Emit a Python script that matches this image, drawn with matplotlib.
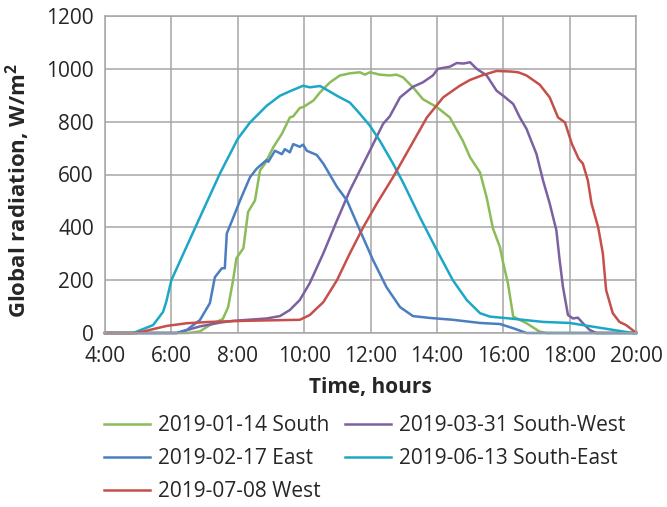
#!/usr/bin/env python3
import matplotlib
matplotlib.use('Agg')
import matplotlib.pyplot as plt

# Time of day in decimal hours, global radiation in W/m2
south_t = [4.0, 6.5, 6.86, 7.16, 7.55, 7.71, 7.86, 7.96, 8.17, 8.31, 8.52, 8.67,
           8.82, 9.07, 9.33, 9.57, 9.67, 9.87, 9.97, 10.28, 10.48, 10.78, 11.08,
           11.38, 11.68, 11.83, 11.98, 12.28, 12.58, 12.78, 12.98, 13.28, 13.58,
           14.0, 14.39, 14.78, 15.0, 15.3, 15.5, 15.69, 15.9, 16.0, 16.14, 16.3,
           16.7, 17.1, 17.3, 20.0]
south_v = [0, 0, 6, 30, 53, 98, 200, 283, 321, 458, 502, 615,
           641, 703, 754, 816, 820, 852, 855, 880, 911, 949, 975,
           983, 987, 978, 987, 978, 975, 978, 968, 930, 885,
           855, 816, 728, 665, 608, 513, 396, 325, 264, 189, 62,
           37, 5, 0, 0]

east_t = [4.0, 6.17, 6.47, 6.86, 7.16, 7.31, 7.52, 7.61, 7.67, 7.83, 8.07, 8.37,
          8.57, 8.87, 8.92, 9.12, 9.33, 9.42, 9.57, 9.67, 9.87, 9.97, 10.08,
          10.38, 10.58, 10.99, 11.29, 11.68, 12.08, 12.48, 12.89, 13.28, 13.79,
          14.48, 15.3, 15.9, 16.3, 16.7, 20.0]
east_v = [0, 0, 12, 49, 113, 211, 245, 245, 377, 426, 502, 590,
          622, 655, 648, 690, 677, 696, 684, 715, 705, 713, 690,
          674, 641, 553, 502, 389, 275, 174, 98, 64, 57,
          50, 38, 34, 18, 0, 0]

southwest_t = [4.0, 6.17, 6.86, 7.5, 7.86, 8.87, 9.27, 9.57, 9.87, 10.17, 10.58,
               10.99, 11.38, 11.68, 11.98, 12.38, 12.58, 12.89, 13.28, 13.58,
               13.88, 14.03, 14.39, 14.6, 14.8, 15.0, 15.2, 15.5, 15.8, 16.0,
               16.3, 16.5, 16.7, 17.0, 17.2, 17.4, 17.6, 17.7, 17.8, 17.95,
               18.1, 18.25, 18.4, 18.6, 18.8, 20.0]
southwest_v = [0, 0, 25, 40, 46, 55, 64, 87, 125, 189, 302,
               426, 540, 615, 690, 792, 820, 892, 932, 949,
               975, 1000, 1008, 1022, 1020, 1025, 1000, 975, 917, 898,
               867, 816, 773, 678, 577, 490, 389, 275, 174, 68,
               55, 58, 37, 12, 0, 0]

southeast_t = [4.0, 4.85, 5.45, 5.6, 5.75, 5.85, 6.0, 6.86, 7.46, 8.0, 8.37, 8.87,
               9.27, 9.57, 9.97, 10.17, 10.48, 10.69, 10.99, 11.38, 11.68, 11.98,
               12.28, 12.68, 12.98, 13.49, 14.0, 14.48, 14.9, 15.3, 15.6, 16.2,
               17.2, 18.0, 19.0, 19.9, 20.0]
southeast_v = [0, 0, 30, 55, 80, 120, 200, 438, 603, 735, 797, 860,
               898, 915, 936, 930, 935, 920, 898, 872, 830, 785,
               728, 641, 570, 438, 313, 200, 125, 75, 62, 55,
               42, 38, 18, 0, 0]

west_t = [4.0, 4.96, 5.36, 5.87, 6.47, 7.16, 8.17, 9.87, 10.17, 10.58, 10.99,
          11.38, 11.78, 12.19, 12.68, 13.19, 13.7, 14.19, 14.69, 15.0, 15.4,
          15.8, 16.2, 16.45, 16.7, 17.1, 17.4, 17.65, 17.86, 18.07, 18.27,
          18.4, 18.55, 18.66, 18.86, 19.0, 19.1, 19.3, 19.5, 19.7, 19.96, 20.0]
west_v = [0, 0, 12, 27, 37, 42, 46, 50, 68, 117, 200,
          302, 400, 490, 590, 703, 816, 892, 936, 958, 977,
          992, 990, 987, 975, 940, 892, 816, 797, 715, 660,
          641, 577, 490, 400, 302, 162, 75, 42, 30, 5, 5]

hour_ticks = [4, 6, 8, 10, 12, 14, 16, 18, 20]
hour_labels = ['4:00', '6:00', '8:00', '10:00', '12:00', '14:00', '16:00', '18:00', '20:00']
radiation_ticks = [0, 200, 400, 600, 800, 1000, 1200]

TEXT = '#262626'
GRID = '#a6a6a6'


def main():
    plt.rcParams['font.family'] = ['Open Sans', 'DejaVu Sans']
    plt.rcParams['mathtext.fontset'] = 'custom'
    plt.rcParams['mathtext.rm'] = 'Open Sans'
    plt.rcParams['mathtext.bf'] = 'Open Sans:bold'

    fig = plt.figure(figsize=(6.67, 5.07), dpi=100)
    ax = fig.add_axes([105 / 667, 1 - 333 / 507, 531 / 667, 317 / 507])

    series = [
        (south_t, south_v, '#8cbb5a', '2019-01-14 South'),
        (southwest_t, southwest_v, '#7b61a0', '2019-03-31 South-West'),
        (east_t, east_v, '#4a7ec0', '2019-02-17 East'),
        (southeast_t, southeast_v, '#1ca7c7', '2019-06-13 South-East'),
        (west_t, west_v, '#c64f4b', '2019-07-08 West'),
    ]
    lines = {}
    for t, v, color, label in series:
        ln, = ax.plot(t, v, color=color, linewidth=1.8, label=label,
                      solid_joinstyle='round', clip_on=False)
        lines[label] = ln

    ax.set_xlim(4, 20)
    ax.set_ylim(0, 1200)
    ax.set_xticks(hour_ticks)
    ax.set_xticklabels(hour_labels)
    ax.set_yticks(radiation_ticks)
    ax.tick_params(length=0, labelsize=15, colors=TEXT)
    ax.tick_params(axis='x', pad=9)
    ax.tick_params(axis='y', pad=8)

    ax.grid(True, color=GRID, linewidth=1.1)
    ax.set_axisbelow(True)
    for spine in ax.spines.values():
        spine.set_color(GRID)
        spine.set_linewidth(1.1)

    ax.set_xlabel('Time, hours', fontsize=15, fontweight='bold', color=TEXT)
    ax.xaxis.set_label_coords(0.5, -0.14)
    ax.set_ylabel(r'Global radiation, W/m$^{\mathbf{2}}$', fontsize=16,
                  fontweight='bold', color=TEXT)
    ax.yaxis.set_label_coords(-0.137, 0.45)

    # two-column legend below the axes, filled column by column
    order = ['2019-01-14 South', '2019-02-17 East', '2019-07-08 West',
             '2019-03-31 South-West', '2019-06-13 South-East']
    leg = fig.legend([lines[k] for k in order], order, ncol=2, frameon=False,
                     loc='upper left', bbox_to_anchor=(104 / 667, 1 - 415 / 507),
                     fontsize=15, handlelength=2.2, handletextpad=0.4,
                     columnspacing=0.75, labelspacing=0.58, borderpad=0,
                     borderaxespad=0)
    for txt in leg.get_texts():
        txt.set_color(TEXT)

    fig.savefig('out.png', dpi=100)
    plt.close(fig)


if __name__ == '__main__':
    main()
